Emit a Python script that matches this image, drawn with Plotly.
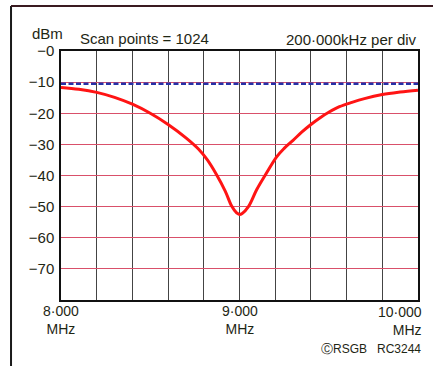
import plotly.graph_objects as go

# ---- data ----
freq_mhz = [8.0, 8.1, 8.2, 8.3, 8.4, 8.5, 8.6, 8.7, 8.77, 8.82, 8.87, 8.92, 8.956, 8.984, 9.0,
            9.015, 9.05, 9.096, 9.143, 9.208, 9.25, 9.3, 9.35, 9.4, 9.45, 9.5, 9.56, 9.63, 9.7,
            9.8, 9.9, 10.0]
level_dbm = [-11.7, -12.3, -13.3, -14.9, -17.1, -20.0, -23.6, -27.9, -31.5, -35.0, -39.6, -45.0,
             -49.8, -52.0, -52.5, -52.2, -50.0, -44.6, -40.0, -34.0, -31.3, -28.7, -26.0, -23.6,
             -21.5, -19.7, -17.9, -16.5, -15.3, -14.0, -13.2, -12.6]
ref_freq = [8.0, 10.0]
ref_level = [-10.5, -10.5]

y_tick_vals = [0, -10, -20, -30, -40, -50, -60, -70]
y_tick_text = ["\u22120", "\u221210", "\u221220", "\u221230", "\u221240", "\u221250", "\u221260", "\u221270"]
x_label_vals = [8.0, 9.0, 10.0]
x_label_text = ["8\u00b7000", "9\u00b7000", "10\u00b7000"]
x_unit = "MHz"
title_left = "Scan points = 1024"
title_right = "200\u00b7000kHz per div"
y_unit = "dBm"
credit = "\u24b8RSGB   RC3244"

TXT = "#1e2614"
FONT = "Liberation Sans"
FS = 15

fig = go.Figure()
fig.add_trace(go.Scatter(x=ref_freq, y=ref_level, mode="lines",
                         line=dict(color="#2630a8", width=2.5, dash="5px,2.5px"),
                         hoverinfo="skip", showlegend=False))
fig.add_trace(go.Scatter(x=freq_mhz, y=level_dbm, mode="lines",
                         line=dict(color="#ff1414", width=3, shape="spline", smoothing=1.0),
                         showlegend=False))

shapes = []
# outer frame (left and top)
shapes.append(dict(type="line", xref="paper", yref="paper", x0=-0.14, x1=-0.14, y0=-0.3, y1=1.181,
                   line=dict(color="#1a1a1a", width=2)))
shapes.append(dict(type="line", xref="paper", yref="paper", x0=-0.14, x1=1.1, y0=1.181, y1=1.181,
                   line=dict(color="#3a1a20", width=2)))

ann = []
def px_x(p):
    return (p - 61) / 357.0
def px_y(p):
    return (300 - p) / 249.0

ann.append(dict(text=y_unit, x=px_x(47), y=px_y(33), xanchor="center", yanchor="middle"))
ann.append(dict(text=title_left, x=px_x(78), y=px_y(38), xanchor="left", yanchor="middle"))
ann.append(dict(text=title_right, x=px_x(419), y=px_y(40), xanchor="right", yanchor="middle"))
for a in ann:
    a["font"] = dict(family=FONT, size=FS, color=TXT)
for i, (v, t) in enumerate(zip(x_label_vals, x_label_text)):
    last = i == len(x_label_vals) - 1
    ann.append(dict(text=t + "<br>" + x_unit, x=v, xref="x", y=px_y(321 if last else 319.5),
                    xanchor="right" if last else "center", align="right" if last else "center",
                    xshift=6 if last else 0, yanchor="middle",
                    font=dict(family=FONT, size=14, color=TXT)))
for a in ann:
    a.setdefault("xref", "paper")
    a["yref"] = "paper"
    a["showarrow"] = False
ann.append(dict(text=credit, x=px_x(423), y=px_y(349), xref="paper", yref="paper",
                xanchor="right", yanchor="middle", showarrow=False,
                font=dict(family=FONT, size=12, color=TXT)))

fig.update_layout(
    width=433, height=366,
    margin=dict(l=61, r=15, t=51, b=66),
    paper_bgcolor="white", plot_bgcolor="white",
    shapes=shapes, annotations=ann,
    font=dict(family=FONT, size=FS, color=TXT),
    xaxis=dict(range=[8.0, 10.0], dtick=0.2, tick0=8.0, showticklabels=False,
               showgrid=True, gridcolor="#444444", gridwidth=1,
               showline=True, linecolor="#111", linewidth=1.5, mirror=True,
               zeroline=False, ticks=""),
    yaxis=dict(range=[-80, 0], tickvals=y_tick_vals, ticktext=y_tick_text,
               showgrid=True, gridcolor="#d9506a", gridwidth=1,
               showline=True, linecolor="#111", linewidth=1.5, mirror=True,
               zeroline=False, ticks="", ticklabelstandoff=2,
               tickfont=dict(family=FONT, size=FS, color=TXT)),
)

fig.write_html("out.html", config={"displayModeBar": False},
               post_script="document.body.style.margin='0';document.body.style.overflow='hidden';")
